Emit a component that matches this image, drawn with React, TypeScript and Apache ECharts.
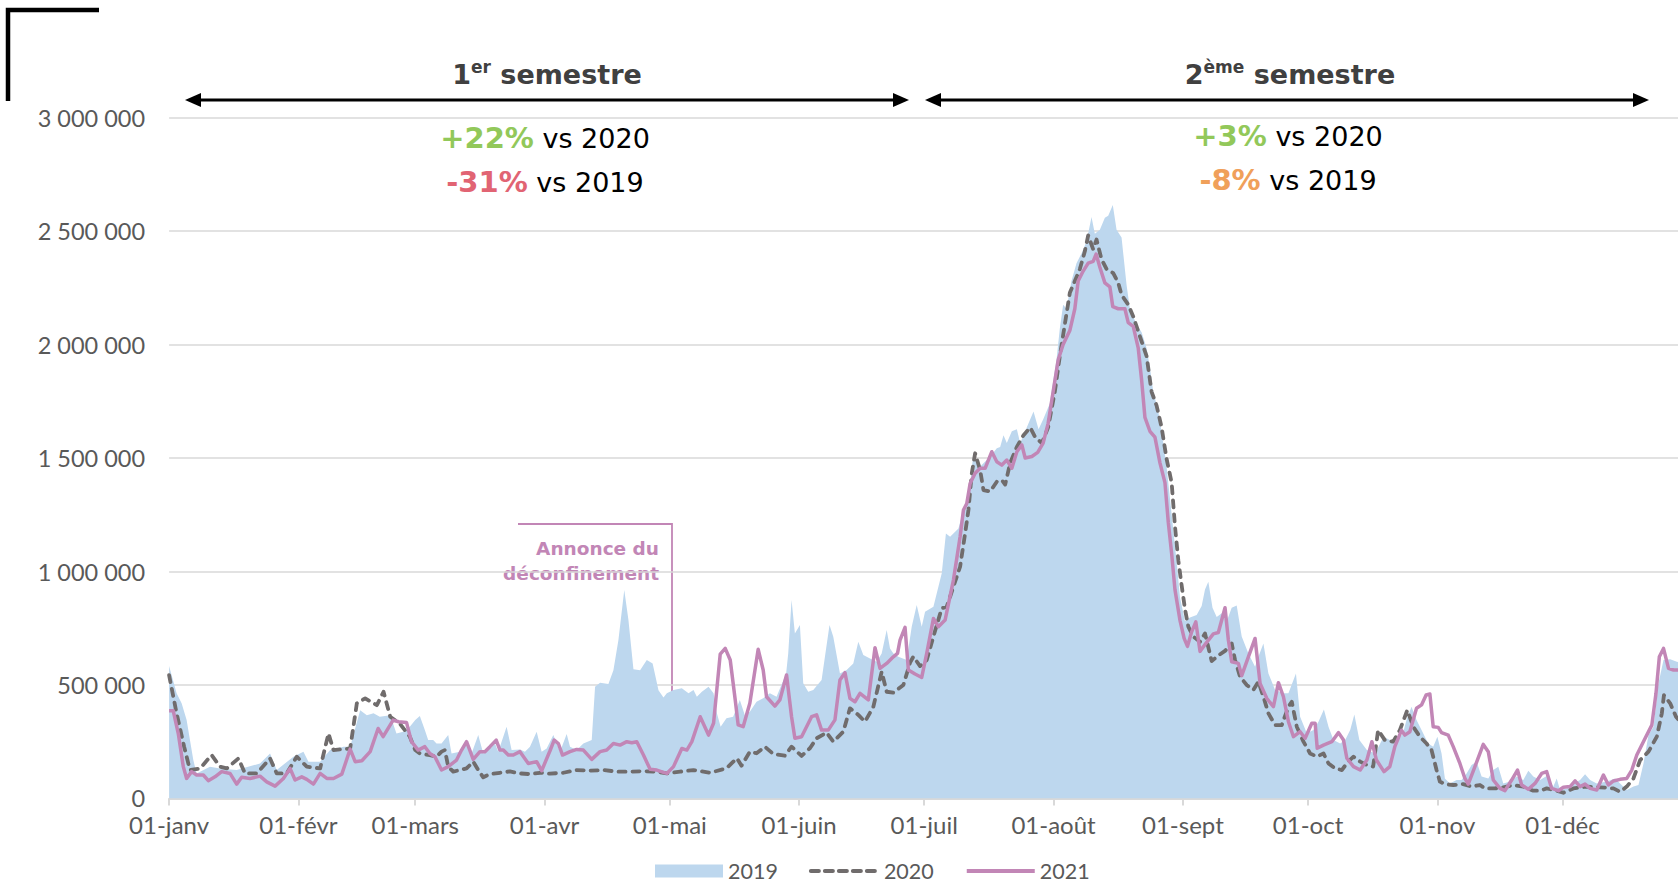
import React, { useEffect, useRef } from 'react';
import * as echarts from 'echarts';

// x = day of year (0 = 01-janv), y = visitors in thousands
const monthStarts = [0, 31, 59, 90, 120, 151, 181, 212, 243, 273, 304, 334];
const monthLabels = ['01-janv', '01-févr', '01-mars', '01-avr', '01-mai', '01-juin', '01-juil', '01-août', '01-sept', '01-oct', '01-nov', '01-déc'];
const seriesNames = ['2019', '2020', '2021'];

const v2019: [number, number][] = [
  [0, 583], [1.8, 463], [3, 419], [4.2, 345], [5.8, 169], [6.6, 110], [9.8, 140], [12.2, 132], [16.2, 125], [21.8, 154],
  [24.2, 198], [25.8, 125], [29.8, 184], [32.2, 206], [33.4, 162], [36.2, 162], [38.6, 213], [41.8, 228], [43.4, 228], [45.8, 389],
  [47.4, 367], [49, 375], [50.5, 360], [53, 367], [54.5, 286], [56.1, 294], [57.7, 316], [59, 345], [60.1, 363], [61.3, 301],
  [62.1, 257], [63.3, 257], [64.1, 242], [65.3, 242], [66.9, 279], [67.7, 198], [69.7, 206], [71.3, 242], [72.5, 198], [74.1, 279],
  [75.3, 198], [76.9, 220], [78.1, 242], [78.9, 206], [80.9, 316], [82.1, 213], [84.1, 216], [85.3, 206], [86.5, 228], [88.1, 294],
  [89.3, 206], [90.5, 220], [92.1, 279], [93.7, 206], [95.3, 284], [96.1, 228], [97.7, 213], [99.3, 242], [101.3, 257], [102.1, 492],
  [103.3, 510], [105.3, 504], [106.5, 565], [107.7, 698], [109.1, 918], [110.1, 786], [111.3, 569], [112.9, 565], [114.5, 610], [115.9, 595],
  [117.3, 477], [118.5, 445], [119.3, 463], [120.9, 478], [122.9, 485], [124.5, 463], [125.7, 478], [126.5, 448], [127.7, 470], [129.3, 492],
  [130.5, 463], [131.3, 375], [132.2, 316], [133.6, 353], [135.2, 360], [136.8, 434], [138, 367], [139.2, 382], [140.8, 426], [142.4, 441],
  [144, 463], [145.6, 448], [147.9, 551], [148.4, 639], [149.2, 874], [150, 727], [151.2, 764], [152, 507], [153.2, 470], [154.4, 478],
  [156.4, 522], [157.2, 624], [158.3, 764], [159.2, 712], [160.8, 551], [162.4, 566], [164, 595], [165.2, 690], [166.4, 632], [168, 617],
  [169.6, 602], [170.8, 639], [172, 742], [172.8, 661], [173.6, 639], [174.8, 624], [176.8, 610], [178, 757], [179.2, 852], [180.4, 757],
  [181.2, 823], [183.2, 845], [185.2, 992], [186.2, 1168], [187.2, 1153], [189.2, 1190], [190.4, 1271], [191.6, 1315], [192.8, 1521], [194, 1455],
  [195.2, 1477], [196.8, 1506], [198.4, 1543], [199.2, 1549], [200, 1601], [200.8, 1566], [202, 1618], [203.2, 1627], [204, 1566], [205.6, 1636],
  [207.2, 1705], [208.4, 1627], [209.5, 1670], [211.1, 1740], [212.7, 1932], [213.5, 2071], [214.3, 2176], [215.1, 2158], [216.3, 2280], [217.5, 2358],
  [218.7, 2402], [219.9, 2454], [221.1, 2562], [221.9, 2489], [223.1, 2506], [224.3, 2559], [225.1, 2568], [226.2, 2615], [227.1, 2506], [228.3, 2472],
  [229.5, 2263], [230.3, 2158], [231.9, 2089], [233.1, 2054], [234.3, 1984], [235.1, 1897], [235.9, 1793], [237.1, 1705], [238.3, 1566], [239.1, 1461],
  [239.9, 1322], [240.7, 1183], [241.5, 1043], [242.3, 886], [243.5, 781], [244.7, 797], [246.3, 808], [247.5, 848], [248.3, 921], [249.1, 955],
  [250.1, 840], [251.1, 799], [252.3, 816], [253.5, 780], [254.7, 840], [255.9, 850], [257.1, 713], [258.7, 639], [260.3, 580], [261.1, 624],
  [262.3, 683], [263.5, 551], [265.1, 478], [267.1, 463], [268.3, 463], [270.1, 551], [271.1, 360], [272.7, 287], [274.3, 301], [275.5, 338],
  [276.8, 392], [277.9, 316], [279.1, 257], [280.7, 242], [281.9, 257], [283.1, 301], [284.1, 370], [285.3, 257], [287.1, 213], [289.1, 198],
  [291.1, 272], [292.6, 257], [294.2, 242], [295.8, 290], [296.6, 345], [297.8, 404], [299, 345], [300.2, 301], [301.8, 242], [303, 228],
  [304, 272], [305, 198], [305.8, 88], [307, 66], [308.6, 81], [309.8, 81], [311, 110], [312.2, 147], [313.4, 162], [314.6, 96],
  [316.2, 88], [317.4, 125], [318.6, 140], [319.8, 66], [321.4, 74], [323, 96], [324.6, 81], [325.8, 122], [327, 96], [328.6, 81],
  [330.2, 99], [331.8, 52], [332.6, 88], [333.4, 37], [335, 44], [336.6, 66], [338.2, 81], [339.4, 106], [340.6, 81], [342.2, 66],
  [344.6, 74], [346.6, 88], [347.8, 66], [349.4, 37], [351, 52], [352.2, 59], [353.4, 154], [354.6, 279], [355.8, 316], [357, 507],
  [358.2, 610], [359.8, 613], [361.4, 602], [361.9, 600],
];

const v2020: [number, number][] = [
  [0, 543], [1.8, 375], [3.6, 228], [5, 125], [7.4, 132], [10.2, 191], [12.2, 140], [13.8, 132], [16.6, 176], [18.2, 110],
  [21, 110], [24.2, 176], [25.8, 110], [28.2, 110], [30.6, 184], [33, 140], [36.2, 132], [38.2, 286], [39.4, 213], [43.4, 220],
  [45, 419], [47, 441], [49.8, 411], [51.4, 470], [53, 360], [55.3, 330], [57.7, 272], [59, 213], [60.1, 198], [62.5, 191],
  [64.1, 184], [65.3, 206], [66.1, 213], [66.9, 140], [68.1, 118], [69.7, 125], [71.3, 132], [72.9, 162], [74.1, 125], [75.3, 93],
  [76.9, 107], [79.3, 113], [81.7, 119], [84.1, 110], [86.5, 107], [88.9, 113], [91.3, 109], [94.5, 113], [97.7, 125], [100.9, 122],
  [104.1, 125], [107.3, 118], [110.5, 118], [113.7, 120], [116.9, 118], [119.3, 110], [122.5, 118], [125.7, 125], [129.7, 113], [133.6, 133],
  [136.1, 177], [137.2, 144], [139.2, 206], [140.8, 199], [142.8, 228], [144.8, 196], [147.6, 188], [149.2, 228], [151.6, 187], [153.6, 221],
  [155.2, 265], [157.6, 290], [159.2, 250], [161.6, 294], [163.2, 397], [165.2, 368], [166.8, 338], [168.8, 404], [170.8, 558], [172, 470],
  [173.6, 466], [176, 500], [177.6, 598], [178.4, 625], [180, 583], [181.6, 610], [183.2, 713], [185.2, 838], [186.4, 845], [188, 933],
  [189.6, 1021], [190.8, 1168], [191.6, 1271], [192.4, 1433], [193.2, 1521], [194.4, 1447], [195.2, 1359], [196.8, 1352], [198.4, 1396], [199.6, 1403],
  [200.4, 1383], [201.6, 1478], [203.2, 1549], [204.8, 1601], [206.4, 1635], [207.6, 1592], [209.2, 1566], [210.7, 1635], [212.3, 1792], [213.5, 1949],
  [214.7, 2089], [215.9, 2228], [217.1, 2280], [218.3, 2333], [219.5, 2411], [220.3, 2481], [221.5, 2420], [222.3, 2463], [223.5, 2376], [224.7, 2333],
  [226.3, 2315], [227.5, 2272], [228.3, 2219], [229.9, 2176], [231.1, 2124], [232.7, 2036], [234.3, 1949], [235.5, 1792], [236.7, 1731], [237.9, 1635],
  [239.1, 1496], [240.3, 1392], [241.1, 1200], [241.9, 1050], [242.7, 939], [243.5, 834], [244.3, 757], [245.5, 713], [247.1, 690], [248.3, 727],
  [249.9, 605], [251.5, 630], [253.1, 650], [254.7, 683], [255.5, 610], [256.7, 536], [258.3, 500], [259.9, 478], [261.1, 514], [262.3, 448],
  [263.5, 375], [265.1, 323], [266.7, 323], [268.3, 404], [269.1, 426], [270.3, 316], [271.9, 250], [273.5, 198], [275.1, 184], [276.7, 198],
  [277.9, 154], [279.5, 132], [281.1, 125], [282.6, 162], [283.9, 184], [285.5, 162], [287.1, 147], [288.6, 140], [289.8, 301], [291.4, 257],
  [293.4, 250], [295, 301], [296.8, 389], [298.2, 316], [299.8, 272], [301.4, 242], [302.6, 213], [303.8, 125], [304.6, 74], [305.8, 63],
  [307.8, 59], [310.2, 63], [312.2, 52], [314.2, 59], [315.4, 44], [317.8, 44], [319.8, 49], [322.2, 59], [324.6, 52], [327, 34],
  [328.6, 34], [330.2, 44], [332.6, 34], [334.2, 25], [336.6, 44], [339.8, 52], [343, 49], [346.2, 44], [347.8, 29], [349.4, 52],
  [351, 88], [352.6, 169], [354.6, 206], [356.6, 272], [357.8, 375], [358.3, 455], [359.8, 419], [361.2, 360], [361.9, 345],
];

const v2021: [number, number][] = [
  [0, 386], [1, 386], [2.2, 286], [3.4, 140], [4.2, 88], [5.4, 118], [6.6, 103], [8.2, 103], [9.4, 78], [11, 95],
  [12.6, 118], [14.6, 110], [16.2, 63], [17.4, 93], [19.4, 88], [21.8, 98], [23.4, 73], [25.4, 54], [27.4, 88], [29, 132],
  [30.2, 81], [31.8, 95], [33, 84], [34.6, 63], [36.2, 110], [37.8, 88], [39.4, 88], [41.4, 107], [43.4, 217], [44.6, 162],
  [46.2, 166], [48.2, 206], [50.1, 308], [51.3, 272], [53.7, 345], [55, 338], [56.9, 335], [58.1, 250], [59.7, 213], [61.3, 228],
  [62.5, 198], [63.7, 184], [65.3, 125], [66.9, 140], [68.9, 169], [70.1, 213], [71.3, 250], [72.9, 172], [74.5, 206], [75.7, 206],
  [76.9, 228], [78.4, 257], [79.3, 213], [80.1, 213], [81.3, 191], [82.5, 191], [84.1, 206], [86.1, 154], [88.1, 162], [89.3, 122],
  [91.3, 210], [92.3, 257], [93.3, 242], [94.3, 191], [96.1, 206], [97.7, 216], [99.3, 213], [101.3, 172], [103.3, 206], [104.9, 213],
  [106.5, 242], [108.1, 235], [109.7, 250], [110.9, 245], [112.1, 250], [113.7, 191], [115.3, 128], [116.9, 125], [118.5, 115], [119.3, 110],
  [120.9, 140], [122.9, 220], [124.1, 213], [125.3, 250], [127.3, 360], [129.3, 279], [130.5, 331], [132.1, 636], [133.3, 661], [134.5, 610],
  [135.7, 434], [136.4, 324], [137.6, 316], [139.2, 419], [141.2, 657], [142.4, 566], [143.2, 448], [145.2, 407], [146.4, 434], [148, 544],
  [149.2, 360], [150, 265], [151.6, 272], [154, 360], [155.2, 368], [156.4, 301], [158, 301], [159.6, 346], [160.8, 522], [162, 554],
  [163.2, 441], [164.4, 426], [165.6, 463], [167.6, 434], [169.2, 664], [170.4, 573], [172, 595], [173.6, 624], [174.6, 639], [175.2, 698],
  [176.4, 754], [177.2, 566], [178.8, 548], [180.4, 533], [181.6, 639], [183.2, 793], [184.4, 757], [186, 786], [188, 962], [189.6, 1153],
  [190.4, 1271], [191.2, 1300], [192, 1388], [193.2, 1433], [194.4, 1455], [195.6, 1455], [197.2, 1528], [198.4, 1484], [199.6, 1469], [200.8, 1491],
  [202, 1455], [203.2, 1528], [204.4, 1558], [205.2, 1500], [206.8, 1507], [208.2, 1525], [209.5, 1566], [210.7, 1653], [211.9, 1792], [213.1, 1932],
  [214.3, 2001], [215.9, 2062], [217.1, 2158], [217.9, 2280], [219.1, 2324], [220.3, 2359], [221.5, 2367], [222.2, 2399], [223.1, 2341], [224.3, 2272],
  [225.5, 2254], [226.2, 2167], [227.5, 2158], [229.1, 2158], [229.9, 2097], [231.1, 2080], [232.3, 1984], [233.1, 1845], [233.9, 1679], [235.1, 1618],
  [236.3, 1592], [237.5, 1479], [238.7, 1392], [239.5, 1217], [240.3, 1080], [241.1, 920], [242.3, 785], [243.3, 705], [244.1, 670], [245.1, 734],
  [246.1, 778], [247.1, 648], [248.7, 688], [250.3, 725], [251.5, 731], [253.1, 840], [253.9, 698], [254.7, 602], [256.3, 595], [257.1, 541],
  [258.7, 624], [260.3, 705], [261.5, 507], [263.1, 441], [264.7, 404], [265.9, 510], [267.1, 448], [268.3, 338], [269.5, 272], [271.1, 294],
  [272.3, 265], [273.9, 331], [274.7, 331], [275.2, 221], [276.7, 235], [278.7, 250], [280.3, 290], [281.5, 257], [282.3, 177], [283.9, 140],
  [285.5, 125], [287.1, 169], [288.3, 250], [289.4, 169], [291.2, 118], [292.6, 140], [293.8, 228], [295.4, 300], [296.2, 279], [297.4, 294],
  [299, 397], [300.2, 412], [301.3, 456], [302.2, 460], [303, 316], [304.2, 313], [305, 290], [306.6, 279], [307.8, 228], [309.4, 154],
  [310.6, 88], [311.4, 63], [313, 140], [315, 238], [316.2, 206], [317.4, 81], [319, 44], [320.2, 34], [321.8, 81], [323.2, 125],
  [324.2, 59], [325.8, 40], [327.4, 66], [329, 110], [330.2, 118], [331.4, 44], [333, 34], [334.2, 49], [335.8, 52], [337, 77],
  [338.2, 52], [339.4, 63], [340.6, 44], [342.2, 37], [343.8, 103], [345, 59], [346.2, 77], [347.8, 84], [349.4, 88], [350.6, 125],
  [351.8, 191], [353.8, 265], [355.4, 323], [356.4, 463], [357.2, 624], [358.2, 661], [359.4, 573], [360.6, 566], [361.9, 566],
];

const yMax = 3000000;
const yStep = 500000;

const COLORS = {
  area: '#BDD7EE',
  gray: '#706C6C',
  pink: '#C286B6',
  axisText: '#595959',
  grid: '#D9D9D9',
  title: '#404040',
  green: '#92C85A',
  red: '#E16473',
  orange: '#F0A05A',
};

const toPts = (arr: [number, number][]) => arr.map(([d, v]) => [d, v * 1000]);
const fmtThousands = (v: number) => String(v).replace(/\B(?=(\d{3})+(?!\d))/g, ' ');

const BOLD = 'DejaVu Sans';
const REG = 'Lato';

function titleText(x: number, y: number, num: string, sup: string) {
  return {
    type: 'text',
    x,
    y,
    style: {
      text: `{b|${num}}{s|${sup}}{b| semestre}`,
      align: 'center',
      verticalAlign: 'middle',
      rich: {
        b: { fontFamily: BOLD, fontWeight: 'bold', fontSize: 27, fill: COLORS.title, lineHeight: 32 },
        s: { fontFamily: BOLD, fontWeight: 'bold', fontSize: 17, fill: COLORS.title, lineHeight: 20, verticalAlign: 'top' },
      },
    },
  };
}

function pctText(x: number, y: number, pct: string, color: string, rest: string) {
  return {
    type: 'text',
    x,
    y,
    style: {
      text: `{p|${pct}}{t| ${rest}}`,
      align: 'center',
      verticalAlign: 'middle',
      rich: {
        p: { fontFamily: BOLD, fontWeight: 'bold', fontSize: 29, fill: color, lineHeight: 34 },
        t: { fontFamily: BOLD, fontSize: 27, fill: '#000', lineHeight: 34 },
      },
    },
  };
}

function doubleArrow(x1: number, x2: number, y: number) {
  return [
    { type: 'line', shape: { x1: x1 + 10, y1: y, x2: x2 - 10, y2: y }, style: { stroke: '#000', lineWidth: 3 } },
    { type: 'polygon', shape: { points: [[x1, y], [x1 + 16, y - 7], [x1 + 16, y + 7]] }, style: { fill: '#000' } },
    { type: 'polygon', shape: { points: [[x2, y], [x2 - 16, y - 7], [x2 - 16, y + 7]] }, style: { fill: '#000' } },
  ];
}

export default function App() {
  const ref = useRef<HTMLDivElement>(null);
  useEffect(() => {
    if (!ref.current) return;
    const chart = echarts.init(ref.current, null, { renderer: 'svg' });
    const option: any = {
      animation: false,
      backgroundColor: '#ffffff',
      grid: { left: 169.1, right: 32.3, top: 117.7, bottom: 101.6, containLabel: false },
      xAxis: {
        type: 'value',
        min: 0,
        max: 364,
        splitLine: { show: false },
        axisLine: { show: true, lineStyle: { color: COLORS.grid, width: 2 } },
        axisTick: { show: true, customValues: monthStarts, length: 7, lineStyle: { color: COLORS.grid, width: 2 } },
        axisLabel: {
          customValues: monthStarts,
          formatter: (v: number) => monthLabels[monthStarts.indexOf(Math.round(v))] ?? '',
          fontFamily: REG,
          fontSize: 24,
          lineHeight: 22,
          color: COLORS.axisText,
          margin: 15,
        },
      },
      yAxis: {
        type: 'value',
        min: 0,
        max: yMax,
        interval: yStep,
        axisLine: { show: false },
        axisTick: { show: false },
        splitLine: { lineStyle: { color: COLORS.grid, width: 1.5 } },
        axisLabel: {
          formatter: (v: number) => fmtThousands(v),
          fontFamily: REG,
          fontSize: 23.5,
          lineHeight: 20,
          color: COLORS.axisText,
          margin: 24,
        },
      },
      legend: {
        left: 650,
        top: 855,
        padding: 5,
        itemWidth: 68,
        itemHeight: 13,
        itemGap: 31,
        textStyle: { fontFamily: REG, fontSize: 21.5, lineHeight: 20, color: COLORS.axisText },
        data: [
          { name: seriesNames[0], icon: 'rect', itemStyle: { color: COLORS.area } },
          { name: seriesNames[1], itemStyle: { opacity: 0 }, lineStyle: { width: 4, type: [8, 6], cap: 'round' } },
          { name: seriesNames[2], itemStyle: { opacity: 0 }, lineStyle: { width: 4 } },
        ],
      },
      series: [
        {
          name: seriesNames[0],
          type: 'line',
          data: toPts(v2019),
          symbol: 'none',
          itemStyle: { color: COLORS.area },
          lineStyle: { width: 0, color: COLORS.area },
          areaStyle: { color: COLORS.area, opacity: 1 },
          silent: true,
        },
        {
          name: seriesNames[1],
          type: 'line',
          data: toPts(v2020),
          symbol: 'none',
          itemStyle: { color: COLORS.gray },
          lineStyle: { width: 3.8, color: COLORS.gray, type: [7, 7], cap: 'round', join: 'round' },
          silent: true,
        },
        {
          name: seriesNames[2],
          type: 'line',
          data: toPts(v2021),
          symbol: 'none',
          itemStyle: { color: COLORS.pink },
          lineStyle: { width: 3.5, color: COLORS.pink, join: 'round' },
          silent: true,
        },
      ],
      graphic: [
        { type: 'polyline', shape: { points: [[8, 101], [8, 10], [99, 10]] }, style: { stroke: '#000', lineWidth: 4.5, fill: null } },
        ...doubleArrow(185, 909, 100),
        ...doubleArrow(925, 1649, 100),
        titleText(547, 74, '1', 'er'),
        titleText(1290, 74, '2', 'ème'),
        pctText(545, 138, '+22%', COLORS.green, 'vs 2020'),
        pctText(545, 182, '-31%', COLORS.red, 'vs 2019'),
        pctText(1288, 136, '+3%', COLORS.green, 'vs 2020'),
        pctText(1288, 180, '-8%', COLORS.orange, 'vs 2019'),
        { type: 'polyline', shape: { points: [[518, 524], [672, 524], [672, 736]] }, style: { stroke: COLORS.pink, lineWidth: 1.8, fill: null } },
        { type: 'polygon', shape: { points: [[664.5, 733], [679.5, 733], [672, 748]] }, style: { fill: COLORS.pink } },
        {
          type: 'text',
          x: 659,
          y: 536,
          style: {
            text: 'Annonce du\ndéconfinement',
            align: 'right',
            verticalAlign: 'top',
            fontFamily: BOLD,
            fontWeight: 'bold',
            fontSize: 18.5,
            lineHeight: 25,
            fill: COLORS.pink,
          },
        },
      ],
    };
    chart.setOption(option);
    return () => chart.dispose();
  }, []);
  return (
    <div style={{ position: 'absolute', left: 0, top: 0, width: 1678, height: 886, overflow: 'hidden', background: '#fff' }}>
      <div ref={ref} style={{ width: 1720, height: 900 }} />
    </div>
  );
}
